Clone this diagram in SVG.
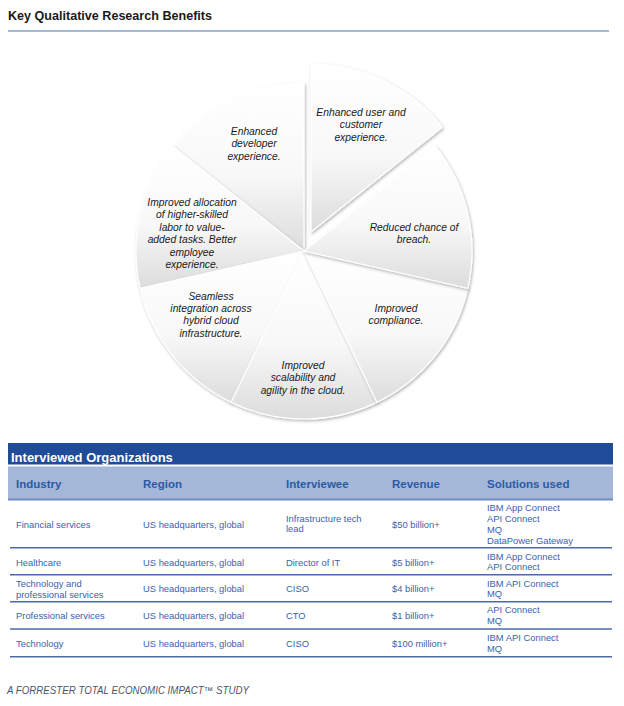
<svg xmlns="http://www.w3.org/2000/svg" width="624" height="706" viewBox="0 0 624 706">
<defs>
<linearGradient id="sliceGrad" x1="0" y1="0" x2="0" y2="1">
<stop offset="0" stop-color="#ffffff"/>
<stop offset="0.55" stop-color="#f8f8f8"/>
<stop offset="1" stop-color="#dcdcdc"/>
</linearGradient>
<filter id="shadow" x="-10%" y="-10%" width="130%" height="130%">
<feDropShadow dx="1" dy="1.5" stdDeviation="1.6" flood-color="#000000" flood-opacity="0.3"/>
</filter>
</defs>
<style>
.title{font-family:"Liberation Sans",Arial,sans-serif;font-weight:bold;font-size:13px;fill:#1a1a1a}
.slice{fill:url(#sliceGrad);stroke:#ffffff;stroke-width:1.2;filter:url(#shadow)}
.pt{font-family:"Liberation Sans",Arial,sans-serif;font-style:italic;font-size:10.3px;fill:#1a1a1a;text-anchor:middle}
.tbar{fill:#1f4b98}
.tband{fill:#a4b7d9}
.ttitle{font-family:"Liberation Sans",Arial,sans-serif;font-weight:bold;font-size:13px;fill:#ffffff}
.th{font-family:"Liberation Sans",Arial,sans-serif;font-weight:bold;font-size:11.5px;fill:#2b5aa6}
.td{font-family:"Liberation Sans",Arial,sans-serif;font-size:9.4px;fill:#3a62ae}
.rl{stroke:#4c6aa6;stroke-width:1.5}
.foot{font-family:"Liberation Sans",Arial,sans-serif;font-style:italic;font-size:10px;fill:#4a5568}
</style>
<rect x="0" y="0" width="624" height="706" fill="#ffffff"/>
<g id="title">
<text class="title" x="8" y="20" textLength="204" lengthAdjust="spacingAndGlyphs">Key Qualitative Research Benefits</text>
<line x1="8" y1="31" x2="609" y2="31" stroke="#4f72b3" stroke-width="1"/>
</g>
<g id="pie">
<g id="slice-developer">
<path class="slice" d="M304,251 L172.65,146.25 A168,168 0 0 1 304,83 Z"/>
<text class="pt" x="254" y="134.5">Enhanced</text>
<text class="pt" x="254" y="147">developer</text>
<text class="pt" x="254" y="159.5">experience.</text>
</g>
<g id="slice-allocation">
<path class="slice" d="M304,251 L140.21,288.38 A168,168 0 0 1 172.65,146.25 Z"/>
<text class="pt" x="192" y="205.5">Improved allocation</text>
<text class="pt" x="192" y="218">of higher-skilled</text>
<text class="pt" x="192" y="230.5">labor to value-</text>
<text class="pt" x="192" y="243">added tasks. Better</text>
<text class="pt" x="192" y="255.5">employee</text>
<text class="pt" x="192" y="268">experience.</text>
</g>
<g id="slice-integration">
<path class="slice" d="M304,251 L231.11,402.36 A168,168 0 0 1 140.21,288.38 Z"/>
<text class="pt" x="211" y="299.5">Seamless</text>
<text class="pt" x="211" y="312">integration across</text>
<text class="pt" x="211" y="324.3">hybrid cloud</text>
<text class="pt" x="211" y="336.6">infrastructure.</text>
</g>
<g id="slice-scalability">
<path class="slice" d="M304,251 L376.89,402.36 A168,168 0 0 1 231.11,402.36 Z"/>
<text class="pt" x="303" y="368.5">Improved</text>
<text class="pt" x="303" y="381">scalability and</text>
<text class="pt" x="303" y="393.5">agility in the cloud.</text>
</g>
<g id="slice-compliance">
<path class="slice" d="M304,251 L467.79,288.38 A168,168 0 0 1 376.89,402.36 Z"/>
<text class="pt" x="396" y="311.5">Improved</text>
<text class="pt" x="396" y="324">compliance.</text>
</g>
<g id="slice-breach">
<path class="slice" d="M304,251 L435.35,146.25 A168,168 0 0 1 467.79,288.38 Z"/>
<text class="pt" x="414" y="230.5">Reduced chance of</text>
<text class="pt" x="414" y="243">breach.</text>
</g>
<g id="slice-user">
<path class="slice" d="M311,232 L311,64 A168,168 0 0 1 442.35,127.25 Z"/>
<text class="pt" x="361" y="115.5">Enhanced user and</text>
<text class="pt" x="361" y="128">customer</text>
<text class="pt" x="361" y="140.5">experience.</text>
</g>
</g>
<g id="table">
<rect class="tbar" x="8" y="443" width="605" height="21.5"/>
<text class="ttitle" x="11" y="461.5">Interviewed Organizations</text>
<rect class="tband" x="8" y="466.5" width="605" height="32.5"/>
<line x1="8" y1="499.5" x2="613" y2="499.5" stroke="#6d8bc2" stroke-width="2"/>
<g id="table-header">
<text class="th" x="16" y="488">Industry</text>
<text class="th" x="143" y="488">Region</text>
<text class="th" x="286" y="488">Interviewee</text>
<text class="th" x="392" y="488">Revenue</text>
<text class="th" x="487" y="488">Solutions used</text>
</g>
<g id="row-1">
<text class="td" x="16" y="527.5">Financial services</text>
<text class="td" x="143" y="527.5">US headquarters, global</text>
<text class="td" x="286" y="521.6">Infrastructure tech</text>
<text class="td" x="286" y="532.3">lead</text>
<text class="td" x="392" y="527.5">$50 billion+</text>
<text class="td" x="487" y="510.7">IBM App Connect</text>
<text class="td" x="487" y="521.7">API Connect</text>
<text class="td" x="487" y="532.7">MQ</text>
<text class="td" x="487" y="543.7">DataPower Gateway</text>
</g>
<g id="row-2">
<text class="td" x="16" y="565.5">Healthcare</text>
<text class="td" x="143" y="565.5">US headquarters, global</text>
<text class="td" x="286" y="565.5">Director of IT</text>
<text class="td" x="392" y="565.5">$5 billion+</text>
<text class="td" x="487" y="560">IBM App Connect</text>
<text class="td" x="487" y="570">API Connect</text>
</g>
<g id="row-3">
<text class="td" x="16" y="587.4">Technology and</text>
<text class="td" x="16" y="597.7">professional services</text>
<text class="td" x="143" y="592.4">US headquarters, global</text>
<text class="td" x="286" y="592.4">CISO</text>
<text class="td" x="392" y="592.4">$4 billion+</text>
<text class="td" x="487" y="586.8">IBM API Connect</text>
<text class="td" x="487" y="597.4">MQ</text>
</g>
<g id="row-4">
<text class="td" x="16" y="619.4">Professional services</text>
<text class="td" x="143" y="619.4">US headquarters, global</text>
<text class="td" x="286" y="619.4">CTO</text>
<text class="td" x="392" y="619.4">$1 billion+</text>
<text class="td" x="487" y="613.4">API Connect</text>
<text class="td" x="487" y="624.4">MQ</text>
</g>
<g id="row-5">
<text class="td" x="16" y="646.7">Technology</text>
<text class="td" x="143" y="646.7">US headquarters, global</text>
<text class="td" x="286" y="646.7">CISO</text>
<text class="td" x="392" y="646.7">$100 million+</text>
<text class="td" x="487" y="640.7">IBM API Connect</text>
<text class="td" x="487" y="652">MQ</text>
</g>
<g id="row-lines">
<line class="rl" x1="10" y1="547.7" x2="612" y2="547.7"/>
<line class="rl" x1="10" y1="574.7" x2="612" y2="574.7"/>
<line class="rl" x1="10" y1="601.7" x2="612" y2="601.7"/>
<line class="rl" x1="10" y1="629" x2="612" y2="629"/>
<line class="rl" x1="10" y1="656.7" x2="612" y2="656.7"/>
</g>
</g>
<g id="footer">
<text class="foot" x="7" y="694" textLength="242" lengthAdjust="spacingAndGlyphs">A FORRESTER TOTAL ECONOMIC IMPACT™ STUDY</text>
</g>
</svg>
